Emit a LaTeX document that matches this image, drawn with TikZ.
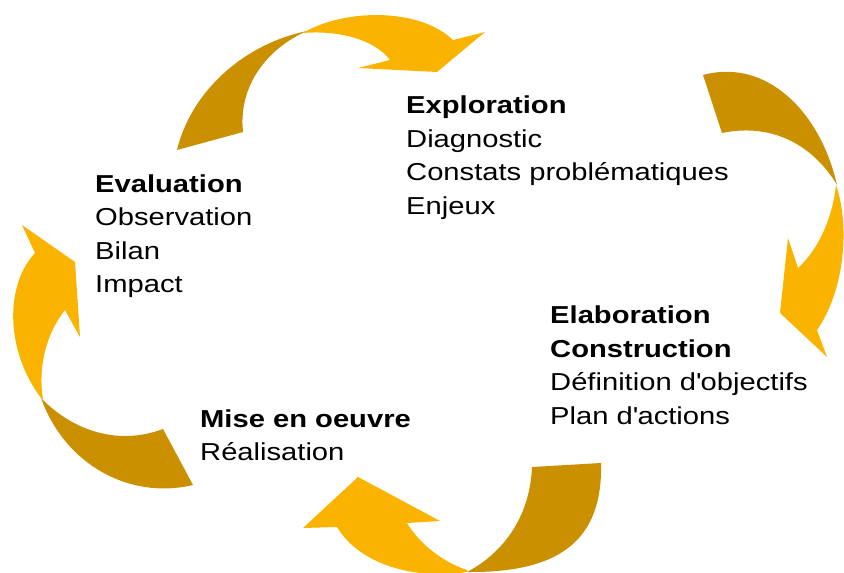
\documentclass[tikz,border=0pt]{standalone}
\usepackage{fontspec}
\setmainfont{Liberation Sans}[FakeStretch=1.19]
\definecolor{orFonce}{RGB}{203,144,0}
\definecolor{orClair}{RGB}{250,180,0}
\begin{document}
\begin{tikzpicture}[x=1pt,y=-1pt,
    bloc/.style={anchor=base west,inner sep=0pt,align=left,
      font=\fontsize{24.5}{33.5}\selectfont}]
    \useasboundingbox (0,0) rectangle (844,573);
    \clip (0,0) rectangle (844,573);
    % Fleche du haut
    \fill[orFonce] (177,150) .. controls (190,95) and (240,45) .. (307,31)
        .. controls (268,48) and (238,85) .. (243,132) -- cycle;
    \fill[orClair] (303,33) .. controls (345,8) and (420,8) .. (453,40)
        -- (485,32) -- (437,72) -- (358,68) -- (390,60)
        .. controls (375,40) and (340,30) .. (303,33) -- cycle;
    % Fleche de droite
    \fill[orFonce] (703,75) .. controls (765,58) and (820,110) .. (837,185)
        .. controls (815,148) and (775,122) .. (722,133) -- cycle;
    \fill[orClair] (836,185) .. controls (850,225) and (845,290) .. (817,330)
        -- (827,357) -- (780,313) -- (788,238) -- (798,268)
        .. controls (820,248) and (833,215) .. (836,185) -- cycle;
    % Fleche du bas
    \fill[orFonce] (532,467) -- (601,463) .. controls (603,540) and (560,573) .. (467,572)
        .. controls (505,552) and (530,515) .. (532,467) -- cycle;
    \fill[orClair] (467,572) .. controls (415,580) and (360,565) .. (337,527)
        -- (303,528) -- (358,477) -- (440,521) -- (407,523)
        .. controls (420,545) and (445,563) .. (467,570) -- cycle;
    % Fleche de gauche
    \fill[orFonce] (163,429) -- (193,485) .. controls (130,500) and (65,465) .. (41,398)
        .. controls (70,428) and (115,447) .. (163,429) -- cycle;
    \fill[orClair] (41,398) .. controls (5,350) and (5,285) .. (35,253)
        -- (22,225) -- (75,262) -- (80,337) -- (65,310)
        .. controls (45,335) and (38,370) .. (43,399) -- cycle;
    % Textes (base = derniere ligne)
    \node[bloc] (explo) at (406,214) {\textbf{Exploration}\\Diagnostic\\Constats problématiques\\Enjeux};
    \node[bloc] (eval) at (95,292.5) {\textbf{Evaluation}\\Observation\\Bilan\\Impact};
    \node[bloc] (elab) at (550,424) {\textbf{Elaboration}\\\textbf{Construction}\\Définition d\textquotesingle objectifs\\Plan d\textquotesingle actions};
    \node[bloc] (mise) at (200,460.5) {\textbf{Mise en oeuvre}\\Réalisation};
\end{tikzpicture}
\end{document}
